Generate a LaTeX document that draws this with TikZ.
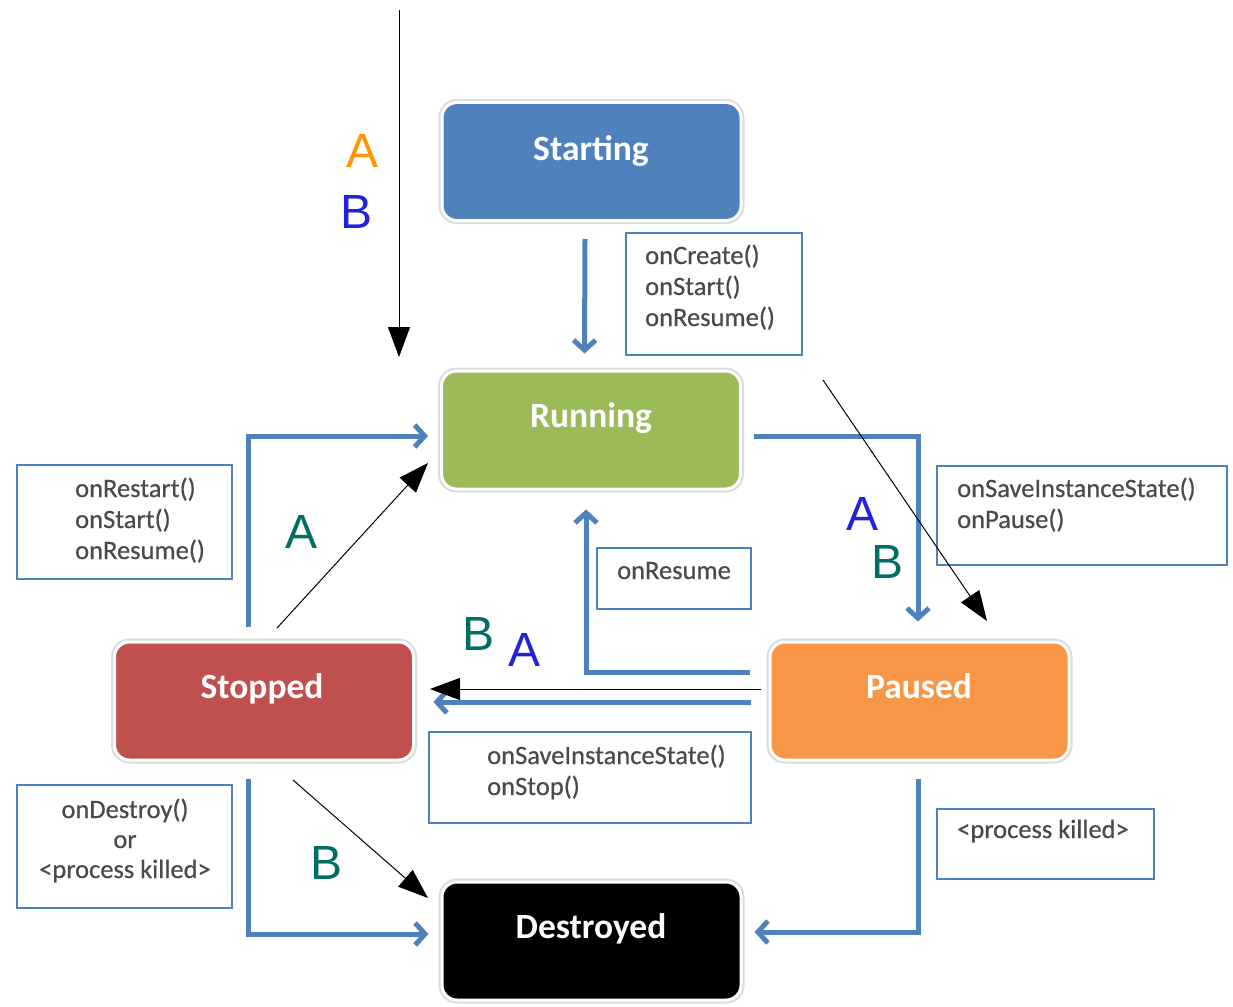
\documentclass[tikz,border=0pt]{standalone}
\usepackage{fontspec}
\setmainfont{Carlito}
\newfontfamily\arialfont{Liberation Sans}
\newfontfamily\notefont[FakeBold=0.5]{Carlito}
\usetikzlibrary{arrows.meta,calc}
\definecolor{stblue}{HTML}{4F81BD}
\definecolor{stgreen}{HTML}{9BBB59}
\definecolor{stred}{HTML}{C0504D}
\definecolor{storange}{HTML}{F79646}
\definecolor{linkblue}{HTML}{4F81BD}
\definecolor{notegray}{HTML}{4A4A4A}
\definecolor{letorange}{HTML}{FF9500}
\definecolor{letblue}{HTML}{2222DD}
\definecolor{letteal}{HTML}{006E64}
\begin{document}
\begin{tikzpicture}[x=1pt,y=-1pt,
  state/.style={rectangle, rounded corners=15pt, minimum width=299pt, minimum height=118pt,
    draw=white, line width=3pt, preaction={draw=black!14, line width=7pt}, inner sep=0pt},
  title/.style={font=\fontsize{35.5}{40}\selectfont\bfseries, text=white, anchor=base, inner sep=0pt},
  notebox/.style={rectangle, draw=linkblue, line width=2.5pt, inner sep=0pt},
  notetext/.style={font=\notefont\fontsize{26.5}{31}\selectfont, text=notegray, inner sep=0pt, align=left, anchor=base west},
  letter/.style={font=\arialfont\fontsize{48}{56}\selectfont, inner sep=0pt, anchor=center},
  flow/.style={draw=linkblue, line width=5pt, -{Straight Barb[length=10pt,width=22pt]}},
  thin/.style={draw=black, line width=1pt, -{Triangle[length=30pt,width=22pt]}}
]
\fill[white] (0,0) rectangle (1233,1006);
\useasboundingbox (0,0) rectangle (1233,1006);

% states
\node[state, fill=stblue] (start) at (591.5,161.5) {};
\node[state, fill=stgreen] (run) at (591,430) {};
\node[state, fill=stred] (stop) at (264,701) {};
\node[state, fill=storange] (paused) at (919.5,701) {};
\node[state, fill=black] (dest) at (591.5,941) {};
\node[title] (start-t) at (591,160) {Starting};
\node[title] (run-t) at (591,427) {Running};
\node[title] (stop-t) at (262,698) {Stopped};
\node[title] (paused-t) at (919,698) {Paused};
\node[title] (dest-t) at (591,938) {Destroyed};

% note boxes
\node[notebox, minimum width=176pt, minimum height=122pt] (b1) at (714,294) {};
\node[notetext] (t1) at (645,326) {onCreate()\\onStart()\\onResume()};
\node[notebox, minimum width=215pt, minimum height=114pt] (b2) at (124.5,522) {};
\node[notetext] (t2) at (75,559) {onRestart()\\onStart()\\onResume()};
\node[notebox, minimum width=290pt, minimum height=99pt] (b3) at (1082,515.5) {};
\node[notetext] (t3) at (957,528) {onSaveInstanceState()\\onPause()};
\node[notebox, minimum width=154pt, minimum height=61pt] (b4) at (674,578.5) {};
\node[notetext] (t4) at (617,579) {onResume};
\node[notebox, minimum width=322pt, minimum height=91pt] (b5) at (590,777.5) {};
\node[notetext] (t5) at (487,795) {onSaveInstanceState()\\onStop()};
\node[notebox, minimum width=215pt, minimum height=123pt] (b6) at (124.5,846.5) {};
\node[notetext, align=center, anchor=base, font=\notefont\fontsize{26.5}{30}\selectfont] (t6) at (125,878) {onDestroy()\\or\\<process killed>};
\node[notebox, minimum width=217pt, minimum height=70pt] (b7) at (1045.5,844) {};
\node[notetext] (t7) at (957,838) {<process killed>};

% blue flows
\draw[flow] ($(start.south)+(-6.5,17)$) -- ($(run.north)+(-6.5,-16)$);
\draw[flow] ($(run.east)+(11.5,6)$) -| ($(paused.north)+(-1.5,-19)$);
\draw[flow] ($(paused.west)+(-19,-29)$) -| ($(run.south)+(-5,19)$);
\draw[flow] ($(paused.west)+(-18,1)$) -- ($(stop.east)+(18.5,1)$);
\draw[flow] ($(stop.north)+(-16,-14)$) |- ($(run.west)+(-12,6)$);
\draw[flow] ($(stop.south)+(-16,17)$) |- ($(dest.west)+(-12,-7)$);
\draw[flow] ($(paused.south)+(-1.5,17)$) |- ($(dest.east)+(12,-9)$);

% letters
\node[letter, text=letorange] (la1) at (363,151) {A};
\node[letter, text=letblue] (lb1) at (357,212) {B};
\node[letter, text=letteal] (la2) at (302,532) {A};
\node[letter, text=letblue] (la3) at (862,514) {A};
\node[letter, text=letteal] (lb3) at (887,562) {B};
\node[letter, text=letteal] (lb4) at (479,634) {B};
\node[letter, text=letblue] (la4) at (524,650) {A};
\node[letter, text=letteal] (lb5) at (327,863) {B};

% thin black arrows
\coordinate (c1a) at (399,10);
\coordinate (c1b) at (399,357);
\coordinate (c2a) at (823,380);
\coordinate (c2b) at (987,621);
\coordinate (c3a) at (761,689);
\coordinate (c3b) at (430,689);
\coordinate (c4a) at (277,628);
\coordinate (c4b) at (428,463);
\coordinate (c5a) at (293,780);
\coordinate (c5b) at (428,898);
\draw[thin] (c1a) -- (c1b);
\draw[thin] (c2a) -- (c2b);
\draw[thin] (c3a) -- (c3b);
\draw[thin] (c4a) -- (c4b);
\draw[thin] (c5a) -- (c5b);
\end{tikzpicture}
\end{document}
